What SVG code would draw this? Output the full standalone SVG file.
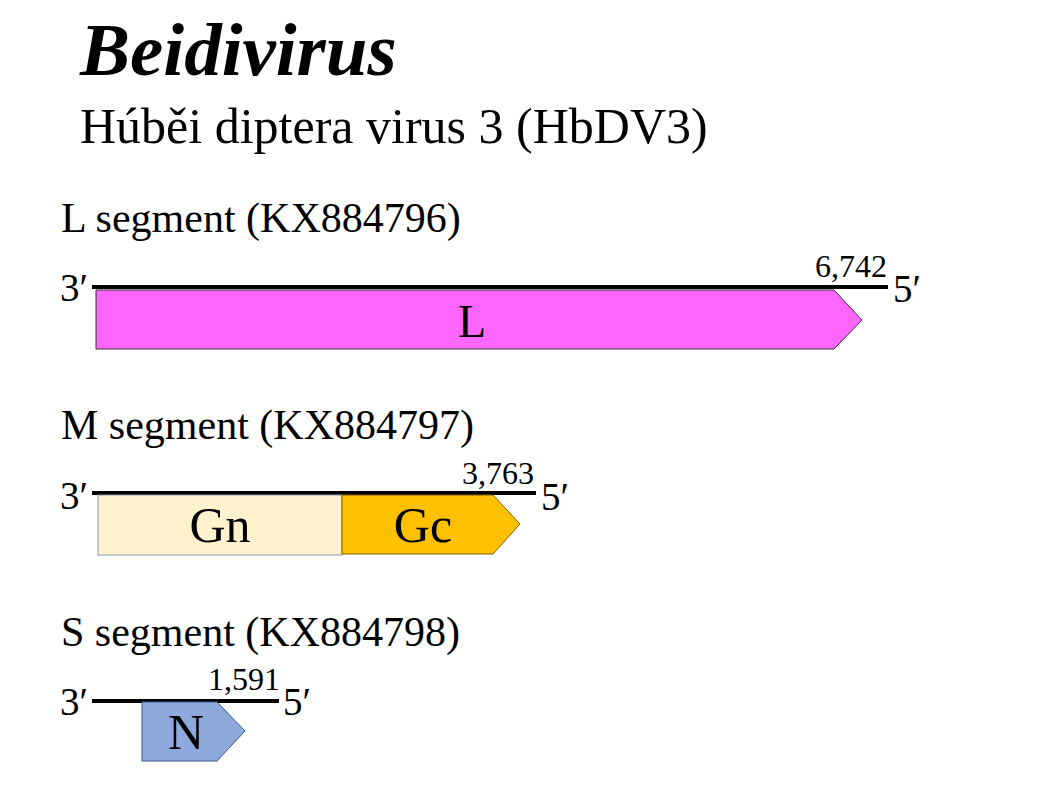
<svg xmlns="http://www.w3.org/2000/svg" width="1049" height="808" viewBox="0 0 1049 808">
<style>
text{font-family:"Liberation Serif","Times New Roman",serif;fill:#000}
.title{font-size:75px;font-weight:bold;font-style:italic}
.sub{font-size:50px}
.seg{font-size:42px}
.end{font-size:39px}
.num{font-size:32px;text-anchor:end}
.lab{font-size:50px;text-anchor:middle}
.rna{stroke:#000;stroke-width:4;fill:none}
.box{stroke:#333;stroke-width:1}
</style>
<rect width="1049" height="808" fill="#fff"/>
<text class="title" x="80" y="75">Beidivirus</text>
<text class="sub" x="80" y="143">Húběi diptera virus 3 (HbDV3)</text>

<g id="L-segment">
<text class="seg" x="61" y="232">L segment (KX884796)</text>
<text class="end" x="60" y="301">3′</text>
<line class="rna" x1="92" y1="287" x2="888" y2="287"/>
<text class="num" x="887" y="277">6,742</text>
<text class="end" x="893" y="302">5′</text>
<g id="L-gene">
<polygon class="box" fill="#FF66FF" points="96,290 834,290 862,320 834,349 96,349"/>
<text class="lab" x="472" y="337" style="font-size:46px">L</text>
</g>
</g>

<g id="M-segment">
<text class="seg" x="61" y="439">M segment (KX884797)</text>
<text class="end" x="60" y="509">3′</text>
<line class="rna" x1="92" y1="493" x2="536" y2="493"/>
<text class="num" x="534" y="484">3,763</text>
<text class="end" x="541" y="510">5′</text>
<g id="Gn-gene">
<rect class="box" fill="#FFF2CC" x="98" y="495" width="244" height="60" style="stroke:#8497B0"/>
<text class="lab" x="220" y="542">Gn</text>
</g>
<g id="Gc-gene">
<polygon class="box" fill="#FFC000" points="342,495 493,495 520,524 493,554 342,554" style="stroke:#7F6000"/>
<text class="lab" x="423" y="542">Gc</text>
</g>
</g>

<g id="S-segment">
<text class="seg" x="61" y="646">S segment (KX884798)</text>
<text class="end" x="60" y="715">3′</text>
<line class="rna" x1="92" y1="701" x2="279" y2="701"/>
<text class="num" x="280" y="690">1,591</text>
<text class="end" x="283" y="715">5′</text>
<g id="N-gene">
<polygon class="box" fill="#8EA9DB" points="142,702 217,702 245,731 217,761 142,761" style="stroke:#3A5A8C"/>
<text class="lab" x="186" y="749">N</text>
</g>
</g>
</svg>
